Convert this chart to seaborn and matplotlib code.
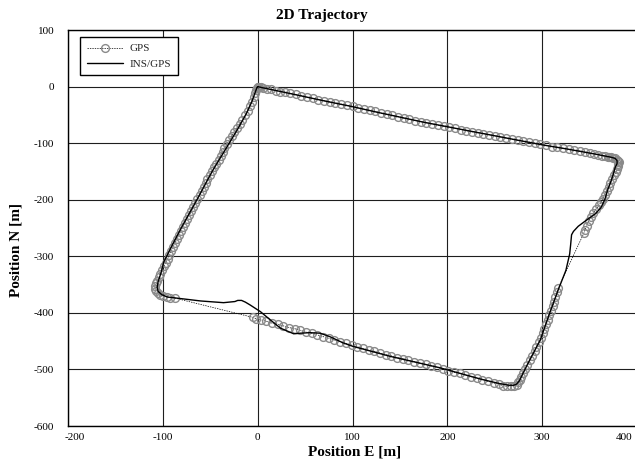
import matplotlib
matplotlib.use("Agg")
import matplotlib.pyplot as plt
import matplotlib.transforms as mtransforms
import pandas as pd
import seaborn as sns

# GPS fixes (east, north) in metres, listed in driving order, split by leg
gps_top = [
    (0, 0), (1, -1), (3, -1), (6, -2), (10, -4), (14, -5), (19, -7), (24, -9),
    (29, -10), (34, -12), (40, -14), (46, -16), (52, -19), (58, -21), (64, -23),
    (70, -25), (76, -27), (82, -29), (88, -31), (94, -33), (100, -35), (106, -38),
    (112, -40), (118, -42), (124, -44), (130, -47), (136, -49), (142, -51),
    (148, -53), (154, -56), (160, -58), (166, -60), (172, -62), (178, -64),
    (184, -66), (190, -68), (196, -70), (202, -72), (208, -74), (214, -76),
    (220, -78), (226, -80), (232, -82), (238, -83), (244, -85), (250, -87),
    (256, -89), (262, -91), (268, -93), (274, -95), (280, -97), (286, -98),
    (292, -100), (298, -102), (304, -104), (310, -106), (316, -107), (322, -109),
    (328, -111), (334, -113), (340, -114), (345, -116), (350, -118), (355, -119),
    (359, -121), (363, -122), (366, -123), (369, -124), (371, -125), (373, -125),
    (375, -126), (377, -127), (379, -129), (380, -131), (381, -134), (380, -137),
]
gps_right_upper = [
    (380, -141), (379, -146), (378, -151), (376, -157), (374, -163), (372, -170),
    (370, -177), (368, -184), (366, -191), (364, -198), (362, -204), (360, -210),
    (357, -216), (354, -223), (352, -230), (349, -237), (347, -246), (345, -254),
    (344, -259),
]
gps_right_lower = [
    (317, -356), (316, -364), (314, -372), (313, -380), (311, -388), (309, -396),
    (307, -404), (306, -412), (304, -420), (302, -428), (301, -436), (299, -444),
    (297, -452), (294, -460), (292, -468), (289, -476), (287, -484), (284, -492),
    (282, -500), (280, -507), (278, -513), (277, -518), (275, -523), (273, -527),
    (270, -529), (267, -530), (263, -530), (259, -529),
]
gps_bottom = [
    (255, -526), (249, -524), (243, -521), (237, -518), (231, -515), (225, -513),
    (219, -510), (213, -507), (207, -505), (201, -502), (195, -499), (189, -496),
    (183, -494), (177, -491), (171, -489), (165, -486), (159, -484), (153, -481),
    (147, -479), (141, -476), (135, -474), (129, -471), (123, -468), (117, -466),
    (111, -463), (105, -460), (99, -457), (93, -454), (87, -451), (81, -448),
    (75, -445), (69, -442), (63, -439), (57, -436), (51, -434), (45, -431),
    (39, -428), (33, -426), (27, -423), (21, -420), (15, -418), (9, -415),
    (3, -412), (-2, -410), (-5, -408),
]
gps_left = [
    (-87, -374), (-92, -373), (-96, -372), (-100, -370), (-103, -368), (-105, -365),
    (-107, -361), (-108, -357), (-108, -353), (-107, -348), (-106, -343),
    (-104, -337), (-103, -331), (-101, -325), (-99, -318), (-97, -311), (-95, -304),
    (-93, -297), (-91, -290), (-89, -283), (-87, -276), (-85, -269), (-83, -262),
    (-81, -255), (-79, -248), (-77, -241), (-75, -234), (-72, -227), (-70, -220),
    (-68, -213), (-66, -206), (-64, -199), (-61, -192), (-59, -185), (-57, -178),
    (-55, -171), (-53, -164), (-50, -157), (-48, -150), (-46, -143), (-44, -136),
    (-41, -129), (-39, -122), (-37, -115), (-35, -108), (-32, -101), (-30, -94),
    (-27, -87), (-25, -80), (-22, -73), (-19, -66), (-16, -59), (-13, -51),
    (-10, -43), (-8, -35), (-6, -27), (-4, -19), (-3, -12), (-2, -6), (-1, -2),
    (0, 0),
]

# Blended INS/GPS solution
ins_e = [0, 5, 25, 50, 75, 100, 125, 150, 175, 200, 225, 250, 275, 300, 325, 345,
         358, 367, 373, 377, 379, 379, 377, 375, 372, 369, 366, 362, 356, 346,
         338, 333, 331, 330, 329, 325, 317, 308, 298, 287, 280, 276, 273, 270,
         265, 255, 235, 192, 140, 100, 90, 76, 66, 55, 45, 38, 24, 13, 3, -8,
         -13, -17, -21, -24, -36, -60, -85, -95, -101, -105, -106, -105, -102,
         -99, -90, -80, -64, -48, -30, -20, -12, -6, -3, -1, 0]
ins_n = [0, -2, -9, -18, -27, -35.5, -45, -54, -63, -71, -79, -87, -95, -103, -110,
         -116, -120, -123, -125, -127, -131, -136, -143, -155, -170, -183, -200,
         -214, -225, -237, -247, -256, -262, -280, -296, -325, -359, -400, -448,
         -483, -506, -520, -526, -528, -528, -525, -517, -497, -477, -459, -453,
         -442, -436, -435, -436, -437, -427, -412, -398, -386, -381, -378, -378,
         -380, -382, -379, -374, -372, -368, -362, -355, -345, -330, -310, -280,
         -248, -200, -150, -100, -72, -48, -26, -12, -3, 0]

x_ticks = [-200, -100, 0, 100, 200, 300, 400]
y_ticks = [100, 0, -100, -200, -300, -400, -500, -600]

sns.set_theme(style="white")
plt.rcParams["font.family"] = ["Liberation Serif", "DejaVu Serif"]
plt.rcParams["axes.unicode_minus"] = False

gps_path = gps_top + gps_right_upper + gps_right_lower + gps_bottom + gps_left
gps_df = pd.DataFrame(gps_path, columns=["E", "N"])
ins_df = pd.DataFrame({"E": ins_e, "N": ins_n})

fig = plt.figure(figsize=(6.35, 4.66), dpi=100)
ax = fig.add_axes([68 / 635, 1 - 426 / 466, 569 / 635, 396 / 466])

sns.lineplot(data=gps_df, x="E", y="N", sort=False, estimator=None, ax=ax,
             color="black", lw=0.5, linestyle=(0, (2, 1.5)),
             marker="o", markersize=5.6, markerfacecolor="none",
             markeredgecolor="#8a8a8a", markeredgewidth=1.0,
             label="GPS", zorder=2)
sns.lineplot(data=ins_df, x="E", y="N", sort=False, estimator=None, ax=ax,
             color="black", lw=1.0, label="INS/GPS", zorder=3)

ax.set_xlim(-200, 400)
ax.set_ylim(-600, 100)
ax.set_xticks(x_ticks)
ax.set_yticks(y_ticks)
ax.set_xticklabels([str(v) for v in x_ticks])
ax.set_yticklabels([str(v) for v in y_ticks])
ax.grid(True, color="#1e1e1e", lw=0.8)
ax.set_axisbelow(True)
for sp in ax.spines.values():
    sp.set_color("black")
    sp.set_linewidth(1.0)
ax.tick_params(length=0, labelsize=8, colors="black")
ax.tick_params(axis="x", pad=5)
ax.tick_params(axis="y", pad=10)

# pull the outermost x labels inward
xt = ax.xaxis.get_major_ticks()
xt[0].label1.set_horizontalalignment("left")
xt[0].label1.set_transform(xt[0].label1.get_transform() +
                           mtransforms.ScaledTranslation(-3 / 100, 0, fig.dpi_scale_trans))
xt[-1].label1.set_horizontalalignment("right")
xt[-1].label1.set_transform(xt[-1].label1.get_transform() +
                            mtransforms.ScaledTranslation(-5 / 100, 0, fig.dpi_scale_trans))

ax.set_xlabel("Position E [m]", fontsize=11, fontweight="bold", color="black")
ax.xaxis.set_label_coords((355 - 68) / 569, (426 - 446) / 396)
ax.set_ylabel("Position N [m]", fontsize=11, fontweight="bold", color="black")
ax.yaxis.set_label_coords((23 - 68) / 569, (426 - 250) / 396)

fig.text(322 / 635, 1 - 15 / 466, "2D Trajectory", ha="center", va="center",
         fontsize=11, fontweight="bold", color="black")

leg = ax.legend(loc="upper left", bbox_to_anchor=(12 / 569, (426 - 37) / 396),
                borderaxespad=0, fontsize=8, frameon=True, fancybox=False,
                edgecolor="black", framealpha=1, numpoints=1,
                handlelength=3.3, handletextpad=0.6, borderpad=0.6,
                labelspacing=0.5)
leg.get_frame().set_linewidth(1.0)

fig.savefig("out.png", dpi=100, facecolor="white")
